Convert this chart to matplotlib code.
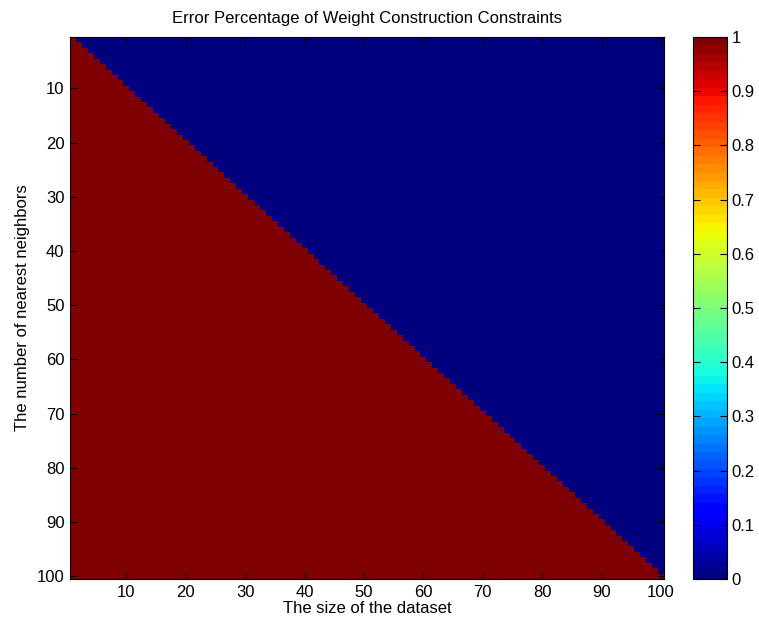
import numpy as np
import matplotlib.pyplot as plt

plt.rcParams['font.family'] = ['Liberation Sans', 'DejaVu Sans']
plt.rcParams['font.size'] = 12

# dataset sizes (columns) and neighbor counts (rows)
sizes = np.arange(1, 101)
neighbors = np.arange(1, 101)
# constraint fails (error = 1) whenever k >= n
error = (neighbors[:, None] >= sizes[None, :]).astype(float)

xticks = [10, 20, 30, 40, 50, 60, 70, 80, 90, 100]
yticks = [10, 20, 30, 40, 50, 60, 70, 80, 90, 100]
cticks = [0, 0.1, 0.2, 0.3, 0.4, 0.5, 0.6, 0.7, 0.8, 0.9, 1]

fig = plt.figure(figsize=(7.59, 6.22), dpi=100)
ax = fig.add_axes([70 / 759, 43 / 622, 594 / 759, 542 / 622])
cax = fig.add_axes([693 / 759, 43 / 622, 34 / 759, 542 / 622])

cmap = plt.get_cmap('jet', 64)
im = ax.imshow(error, cmap=cmap, vmin=0, vmax=1, aspect='auto',
               interpolation='nearest',
               extent=[sizes[0] - 0.5, sizes[-1] + 0.5,
                       neighbors[-1] + 0.5, neighbors[0] - 0.5])

ax.set_xticks(xticks)
ax.set_yticks(yticks)
ax.tick_params(direction='in', top=True, right=True, length=5, labelsize=12, pad=4)
ax.set_title('Error Percentage of Weight Construction Constraints', fontsize=12, pad=10)
ax.set_xlabel('The size of the dataset', fontsize=12, labelpad=1)
ax.set_ylabel('The number of nearest neighbors', fontsize=12, labelpad=5)

cb = fig.colorbar(im, cax=cax, ticks=cticks)
cb.ax.set_yticklabels(['0', '0.1', '0.2', '0.3', '0.4', '0.5', '0.6', '0.7', '0.8', '0.9', '1'])
cb.ax.tick_params(direction='in', left=True, right=True, length=5, labelsize=12)

fig.savefig('out.png', dpi=100)
